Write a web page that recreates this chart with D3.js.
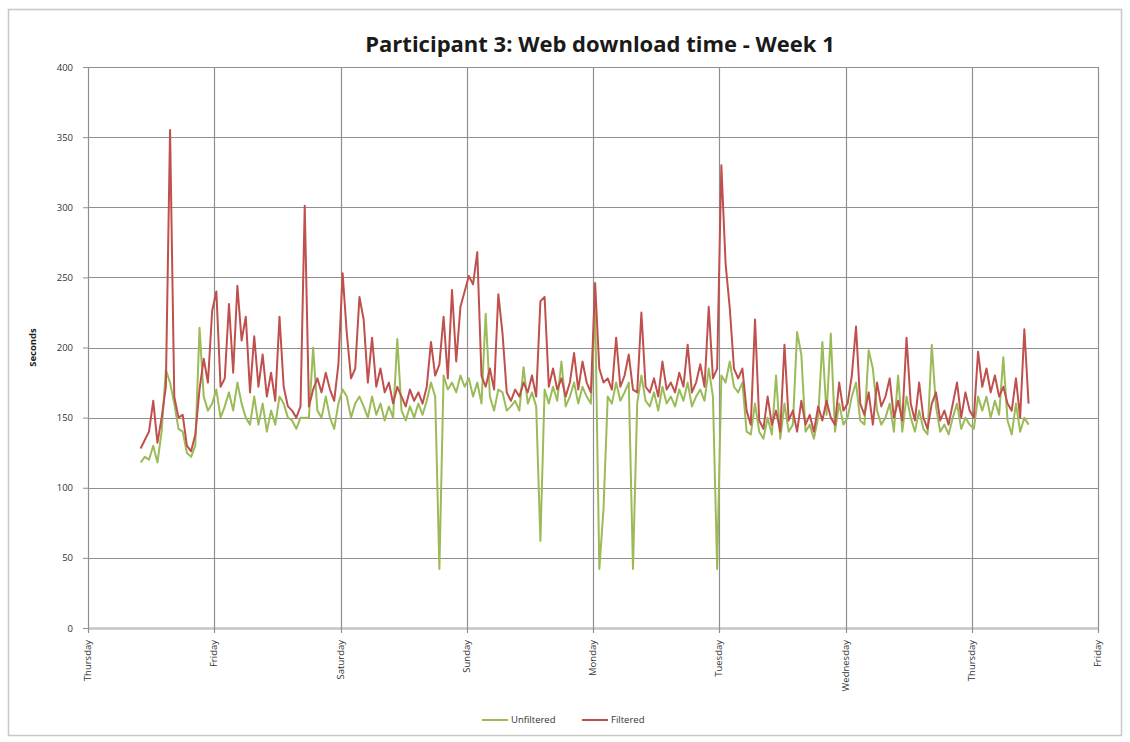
<!DOCTYPE html>
<html>
<head>
<meta charset="utf-8">
<script src="https://cdn.jsdelivr.net/npm/d3@7"></script>
<style>
  body { margin: 0; background: #fff; }
  text { font-family: "Open Sans", "Liberation Sans", sans-serif; }
</style>
</head>
<body>
<div id="chart"></div>
<script>
// Readings every 48 minutes, starting Thursday 10:00
const startTime = new Date(2009, 0, 1, 10, 0)
const stepMinutes = 48

const dayLabels = ['Thursday', 'Friday', 'Saturday', 'Sunday', 'Monday',
  'Tuesday', 'Wednesday', 'Thursday', 'Friday']
const yTicks = [0, 50, 100, 150, 200, 250, 300, 350, 400]

const filtered = [
  128, 134, 140, 162, 132, 150, 172, 355, 165, 150,
  152, 130, 126, 138, 170, 192, 175, 226, 240, 172,
  178, 231, 182, 244, 205, 222, 168, 208, 172, 195,
  165, 182, 162, 222, 172, 158, 155, 150, 158, 301,
  158, 170, 178, 168, 182, 170, 162, 188, 253, 210,
  178, 185, 236, 220, 175, 207, 172, 185, 168, 175,
  160, 172, 165, 158, 170, 162, 168, 160, 172, 204,
  180, 188, 222, 178, 241, 190, 229, 240, 251, 245,
  268, 180, 172, 185, 170, 238, 210, 168, 162, 170,
  165, 175, 168, 180, 165, 233, 236, 172, 185, 170,
  178, 165, 175, 196, 170, 190, 175, 168, 246, 185,
  175, 178, 170, 207, 172, 180, 195, 170, 168, 225,
  172, 168, 178, 165, 190, 170, 175, 168, 182, 172,
  202, 168, 175, 188, 172, 229, 178, 185, 330, 260,
  228, 185, 178, 185, 155, 145, 220, 148, 142, 165,
  145, 155, 140, 202, 148, 155, 140, 162, 145, 152,
  140, 158, 148, 162, 150, 145, 175, 155, 160, 180,
  215, 160, 152, 168, 145, 175, 158, 165, 178, 150,
  162, 148, 207, 160, 148, 175, 150, 142, 160, 168,
  148, 155, 145, 160, 175, 150, 168, 155, 150, 197,
  172, 185, 168, 180, 165, 172, 160, 155, 178, 150,
  213, 160
]

const unfiltered = [
  118, 122, 120, 130, 118, 140, 184, 175, 160, 142,
  140, 125, 122, 130, 214, 165, 155, 160, 170, 150,
  158, 168, 155, 175, 160, 150, 145, 165, 145, 160,
  140, 155, 145, 165, 160, 150, 148, 142, 150, 150,
  150, 200, 155, 150, 165, 150, 142, 160, 170, 165,
  150, 160, 165, 158, 150, 165, 152, 160, 148, 158,
  150, 206, 155, 148, 158, 150, 160, 152, 162, 175,
  165, 42, 180, 170, 175, 168, 180, 172, 178, 165,
  175, 160, 224, 165, 155, 170, 168, 155, 158, 162,
  155, 186, 160, 168, 158, 62, 170, 160, 172, 162,
  190, 158, 165, 175, 160, 172, 165, 160, 230, 42,
  85, 165, 160, 175, 162, 168, 175, 42, 160, 180,
  162, 158, 168, 155, 172, 160, 165, 158, 170, 162,
  175, 158, 165, 170, 162, 185, 165, 42, 180, 175,
  190, 172, 168, 175, 140, 138, 160, 140, 135, 150,
  138, 180, 135, 160, 140, 145, 211, 195, 140, 145,
  135, 150, 204, 152, 210, 140, 160, 145, 150, 165,
  175, 148, 145, 198, 185, 155, 145, 150, 160, 140,
  180, 140, 165, 150, 140, 155, 142, 138, 202, 158,
  140, 145, 138, 150, 160, 142, 150, 145, 142, 165,
  155, 165, 150, 162, 152, 193, 148, 138, 160, 140,
  150, 145
]

const times = filtered.map((d, i) => d3.timeMinute.offset(startTime, i * stepMinutes))

const width = 1130
const height = 742
const margin = { top: 67, right: 32, bottom: 114, left: 88 }
const innerW = width - margin.left - margin.right
const innerH = height - margin.top - margin.bottom

const svg = d3.select('#chart').append('svg')
  .attr('width', width)
  .attr('height', height)

// chart frame
svg.append('rect')
  .attr('x', 8.5).attr('y', 9.5)
  .attr('width', 1113).attr('height', 726)
  .attr('fill', '#fff')
  .attr('stroke', '#c8c8c8')
  .attr('stroke-width', 1.5)

const bounds = svg.append('g')
  .attr('transform', `translate(${margin.left},${margin.top})`)

const dayDates = dayLabels.map((d, i) => d3.timeDay.offset(new Date(2009, 0, 1), i))

const x = d3.scaleTime()
  .domain([dayDates[0], dayDates[dayDates.length - 1]])
  .range([0, innerW])

const y = d3.scaleLinear()
  .domain([0, 400])
  .range([innerH, 0])

// gridlines
bounds.append('g')
  .selectAll('line')
  .data(yTicks)
  .join('line')
    .attr('x1', 0).attr('x2', innerW)
    .attr('y1', d => Math.round(y(d)) + 0.5)
    .attr('y2', d => Math.round(y(d)) + 0.5)
    .attr('stroke', d => d === 0 ? '#c4c4c4' : '#8f8f8f')
    .attr('stroke-width', d => d === 0 ? 2.5 : 1.2)

bounds.append('g')
  .selectAll('line')
  .data(dayDates)
  .join('line')
    .attr('x1', d => Math.round(x(d)) + 0.5)
    .attr('x2', d => Math.round(x(d)) + 0.5)
    .attr('y1', 0).attr('y2', innerH + 5)
    .attr('stroke', '#8f8f8f')
    .attr('stroke-width', 1.2)

// y axis
const yAxis = d3.axisLeft(y).tickValues(yTicks).tickSize(5).tickPadding(10)
const yAxisGroup = bounds.append('g').call(yAxis)
yAxisGroup.select('.domain').attr('stroke', '#8f8f8f')
yAxisGroup.selectAll('.tick line').attr('stroke', '#8f8f8f')
yAxisGroup.selectAll('text')
  .attr('font-size', 9.5)
  .attr('fill', '#333')

// x axis labels
bounds.append('g')
  .selectAll('text')
  .data(dayDates)
  .join('text')
    .attr('transform', d => `translate(${x(d) + 3},${innerH + 12}) rotate(-90)`)
    .attr('text-anchor', 'end')
    .attr('font-size', 9.5)
    .attr('fill', '#333')
    .text((d, i) => dayLabels[i])

// lines
const line = d3.line()
  .x((d, i) => x(times[i]))
  .y(d => y(d))

bounds.append('path')
  .datum(unfiltered)
  .attr('d', line)
  .attr('fill', 'none')
  .attr('stroke', '#9bbb59')
  .attr('stroke-width', 2)
  .attr('stroke-linejoin', 'round')

bounds.append('path')
  .datum(filtered)
  .attr('d', line)
  .attr('fill', 'none')
  .attr('stroke', '#c0504d')
  .attr('stroke-width', 2)
  .attr('stroke-linejoin', 'round')

// title
svg.append('text')
  .attr('x', 600)
  .attr('y', 52)
  .attr('text-anchor', 'middle')
  .attr('font-size', 22)
  .attr('font-weight', 'bold')
  .attr('fill', '#1a1a1a')
  .text('Participant 3: Web download time - Week 1')

// y axis title
svg.append('text')
  .attr('transform', `translate(36,${margin.top + innerH / 2}) rotate(-90)`)
  .attr('text-anchor', 'middle')
  .attr('font-size', 9.5)
  .attr('font-weight', 'bold')
  .attr('fill', '#1a1a1a')
  .text('Seconds')

// legend
const legendItems = [
  { name: 'Unfiltered', color: '#9bbb59', x: 482 },
  { name: 'Filtered', color: '#c0504d', x: 582 }
]
const legend = svg.append('g')
legendItems.forEach(item => {
  legend.append('line')
    .attr('x1', item.x).attr('x2', item.x + 26)
    .attr('y1', 720).attr('y2', 720)
    .attr('stroke', item.color)
    .attr('stroke-width', 2)
  legend.append('text')
    .attr('x', item.x + 29)
    .attr('y', 723)
    .attr('font-size', 9.5)
    .attr('fill', '#333')
    .text(item.name)
})
</script>
</body>
</html>
